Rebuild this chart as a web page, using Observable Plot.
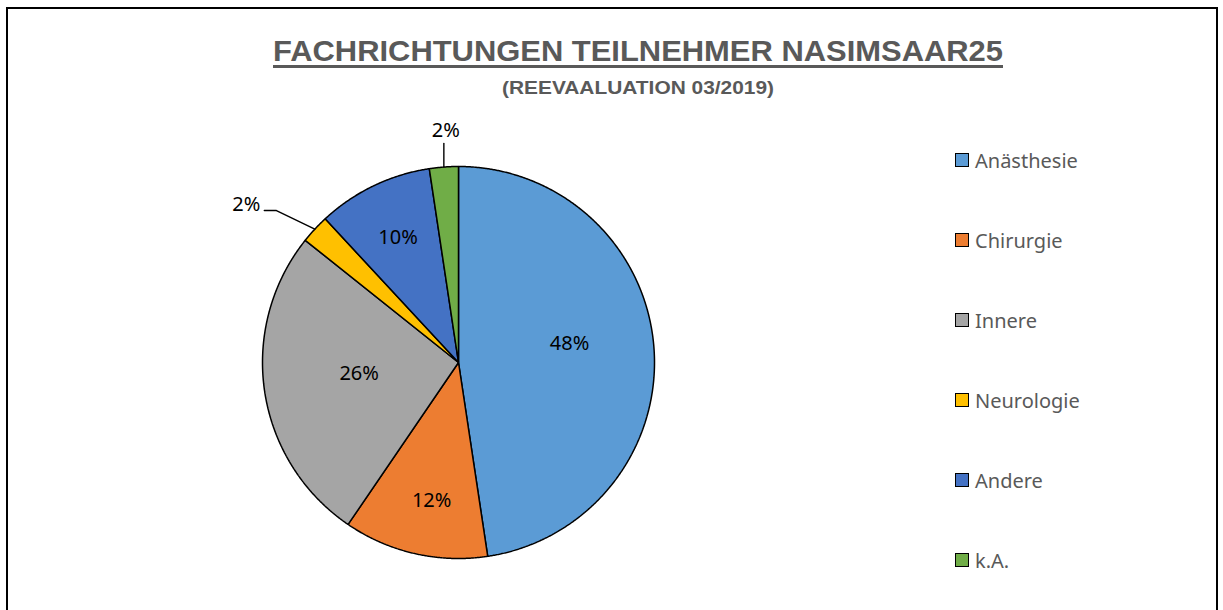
<!DOCTYPE html>
<html><head><meta charset="utf-8">
<script src="https://cdn.jsdelivr.net/npm/d3@7"></script>
<script src="https://cdn.jsdelivr.net/npm/@observablehq/plot@0.6"></script>
<style>
html,body{margin:0;padding:0;background:#fff;}
body{width:1223px;height:610px;overflow:hidden;position:relative;font-family:"Noto Sans",sans-serif;}
#frame{position:absolute;left:6px;top:7px;width:1212px;height:700px;border:2px solid #000;border-bottom:none;box-sizing:border-box;}
.ttl{position:absolute;white-space:nowrap;color:#595959;font-family:"Liberation Sans Narrow","Liberation Sans",sans-serif;font-weight:bold;transform-origin:0 0;}
#title{font-size:30px;top:34px;text-decoration:underline;text-decoration-thickness:3px;text-underline-offset:4px;}
#subtitle{font-size:18px;top:78px;}
#chart{position:absolute;left:0;top:0;}
#legend{position:absolute;left:955px;top:0;}
.li{position:absolute;left:0;display:flex;align-items:center;white-space:nowrap;color:#595959;font-size:20px;}
.sw{width:12px;height:12px;border:1px solid #000;margin-right:6px;flex:none;}
</style></head>
<body>
<div id="frame"></div>
<div id="title" class="ttl">FACHRICHTUNGEN TEILNEHMER NASIMSAAR25</div>
<div id="subtitle" class="ttl">(REEVAALUATION 03/2019)</div>
<div id="chart"></div>
<div id="legend"></div>
<script>
const categories = ["Anästhesie", "Chirurgie", "Innere", "Neurologie", "Andere", "k.A."];
const counts = [20, 5, 11, 1, 4, 1];
const colors = ["#5B9BD5", "#ED7D31", "#A5A5A5", "#FFC000", "#4472C4", "#70AD47"];

// layout (not data): label distance as fraction of radius and angle tweak (degrees)
const labelLayout = [
  {inside: 0.575, angleShift: -5.4},
  {inside: 0.72, angleShift: -1.9},
  {inside: 0.51, angleShift: 2.3},
  {outside: "left", angleShift: -3, elbow: 1.21},
  {inside: 0.71, angleShift: 0},
  {outside: "top", elbow: 1.117}
];

const total = d3.sum(counts);
const rows = categories.map((c, i) => ({category: c, count: counts[i]}));
const arcs = d3.pie().sort(null).value(d => d.count)(rows);

const slicePts = [];
arcs.forEach(a => {
  const c = a.data.category;
  const n = Math.max(4, Math.ceil((a.endAngle - a.startAngle) / 0.005));
  slicePts.push({category: c, x: 0, y: 0});
  for (let k = 0; k <= n; k++) {
    const t = a.startAngle + (a.endAngle - a.startAngle) * k / n;
    slicePts.push({category: c, x: Math.sin(t), y: -Math.cos(t)});
  }
  slicePts.push({category: c, x: 0, y: 0});
});

const labels = [];
const leaders = [];
const rad = Math.PI / 180;
arcs.forEach((a, i) => {
  const mid = (a.startAngle + a.endAngle) / 2;
  const pct = Math.round(a.data.count / total * 100) + "%";
  const L = labelLayout[i];
  if (L.inside) {
    const m = mid + L.angleShift * rad;
    labels.push({x: L.inside * Math.sin(m), y: -L.inside * Math.cos(m), text: pct, anchor: "middle"});
  } else if (L.outside === "left") {
    const ex = Math.sin(mid), ey = -Math.cos(mid);
    const m2 = mid + L.angleShift * rad;
    const bx = L.elbow * Math.sin(m2), by = -L.elbow * Math.cos(m2);
    const hx = bx - 0.062;
    leaders.push({id: i, x: ex, y: ey}, {id: i, x: bx, y: by}, {id: i, x: hx, y: by});
    labels.push({x: hx - 0.02, y: by - 0.03, text: pct, anchor: "end"});
  } else {
    const ex = Math.sin(mid), ey = -Math.cos(mid);
    const by = -L.elbow;
    leaders.push({id: i, x: ex, y: ey}, {id: i, x: ex, y: by});
    labels.push({x: ex + 0.01, y: by - 0.065, text: pct, anchor: "middle"});
  }
});

const cx = 458, cy = 362, r = 196;
const plot = Plot.plot({
  width: 1223, height: 610, margin: 0,
  style: {background: "transparent", overflow: "visible"},
  x: {domain: [-1, 1], range: [cx - r, cx + r], axis: null},
  y: {domain: [-1, 1], range: [cy - r, cy + r], axis: null},
  color: {domain: categories, range: colors},
  marks: [
    Plot.line(slicePts, {x: "x", y: "y", z: "category", fill: "category", stroke: "#000", strokeWidth: 1.5, strokeLinejoin: "miter", strokeLinecap: "butt", curve: "linear"}),
    Plot.line(leaders, {x: "x", y: "y", z: "id", stroke: "#000", strokeWidth: 1.4, strokeLinejoin: "miter", curve: "linear"}),
    Plot.text(labels.filter(d => d.anchor === "middle"), {x: "x", y: "y", text: "text", fill: "#000", fontSize: 20, fontFamily: "Noto Sans", textAnchor: "middle", lineAnchor: "middle"}),
    Plot.text(labels.filter(d => d.anchor === "end"), {x: "x", y: "y", text: "text", fill: "#000", fontSize: 20, fontFamily: "Noto Sans", textAnchor: "end", lineAnchor: "middle"})
  ]
});
document.getElementById("chart").appendChild(plot);

// legend
const leg = document.getElementById("legend");
const legendTop = 160, legendStep = 80;
categories.forEach((c, i) => {
  const item = document.createElement("div");
  item.className = "li";
  item.style.top = (legendTop + i * legendStep - 14) + "px";
  item.style.height = "28px";
  const sw = document.createElement("span");
  sw.className = "sw";
  sw.style.background = colors[i];
  const tx = document.createElement("span");
  tx.textContent = c;
  item.appendChild(sw); item.appendChild(tx);
  leg.appendChild(item);
});

// fit titles to target widths centered at x=638
function fit(id, w) {
  const el = document.getElementById(id);
  const cw = el.getBoundingClientRect().width;
  const s = w / cw;
  el.style.left = (638 - w / 2) + "px";
  el.style.transform = `scaleX(${s})`;
}
fit("title", 730);
fit("subtitle", 272);
</script>
</body></html>
